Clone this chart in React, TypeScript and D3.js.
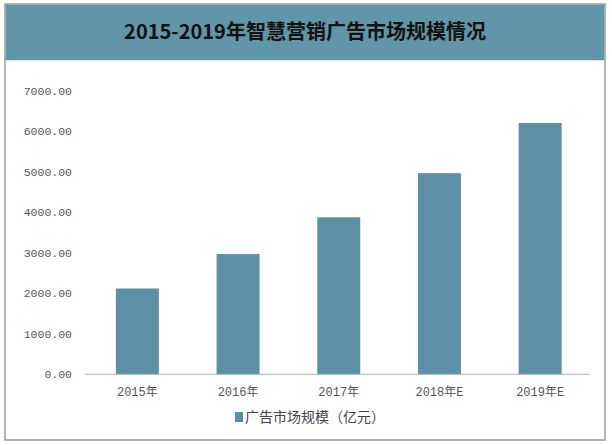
import React from "react";
import * as d3 from "d3";

const title = "2015-2019年智慧营销广告市场规模情况";
const categories = ["2015年", "2016年", "2017年", "2018年E", "2019年E"];
const values = [2120, 2970, 3880, 4970, 6210];
const yTicks = [0, 1000, 2000, 3000, 4000, 5000, 6000, 7000];
const legendLabel = "广告市场规模（亿元）";

export default function App() {
  const W = 612;
  const H = 445;
  const x = d3
    .scaleBand<string>()
    .domain(categories)
    .range([87, 590.5])
    .paddingInner(0.573)
    .paddingOuter(0.2865);
  const y = d3.scaleLinear().domain([0, 7000]).range([374.3, 91]);
  const barColor = "#5d90a4";
  const headerColor = "#6096a8";
  const monoFont = "'Liberation Mono', 'Noto Sans CJK SC', monospace";

  return (
    <svg
      width={W}
      height={H}
      style={{ position: "absolute", left: 0, top: 0, background: "#fff" }}
    >
      {/* outer frame */}
      <rect x={5} y={4} width={600} height={436} fill="#fff" stroke="#9a9a9a" strokeWidth={1.5} />
      {/* header */}
      <rect x={5.75} y={4.75} width={598.5} height={55.5} fill={headerColor} />
      <text
        x={305}
        y={39}
        textAnchor="middle"
        fontFamily="'Noto Sans CJK SC', 'DejaVu Serif', serif"
        fontWeight={700}
        fontSize={20}
        fill="#111"
      >
        {title}
      </text>

      {/* y tick labels */}
      {yTicks.map((t) => (
        <text
          key={t}
          x={72}
          y={y(t)}
          dy="0.35em"
          textAnchor="end"
          fontFamily={monoFont}
          fontSize={11.5}
          fill="#555"
        >
          {t.toFixed(2)}
        </text>
      ))}

      {/* bars */}
      {categories.map((c, i) => (
        <rect
          key={c}
          x={x(c)}
          y={y(values[i])}
          width={x.bandwidth()}
          height={y(0) - y(values[i])}
          fill={barColor}
        />
      ))}

      {/* baseline */}
      <line x1={85} x2={590} y1={y(0)} y2={y(0)} stroke="#a8b4b8" strokeWidth={1} />

      {/* x labels */}
      {categories.map((c) => (
        <text
          key={c}
          x={(x(c) ?? 0) + x.bandwidth() / 2}
          y={392}
          dy="0.35em"
          textAnchor="middle"
          fontFamily={monoFont}
          fontSize={12}
          fill="#555"
        >
          {c}
        </text>
      ))}

      {/* legend */}
      <rect x={235} y={412} width={8} height={10} fill={barColor} />
      <text
        x={245}
        y={417}
        dy="0.35em"
        fontFamily="'Noto Sans CJK SC', sans-serif"
        fontSize={14}
        fill="#444"
      >
        {legendLabel}
      </text>
    </svg>
  );
}
